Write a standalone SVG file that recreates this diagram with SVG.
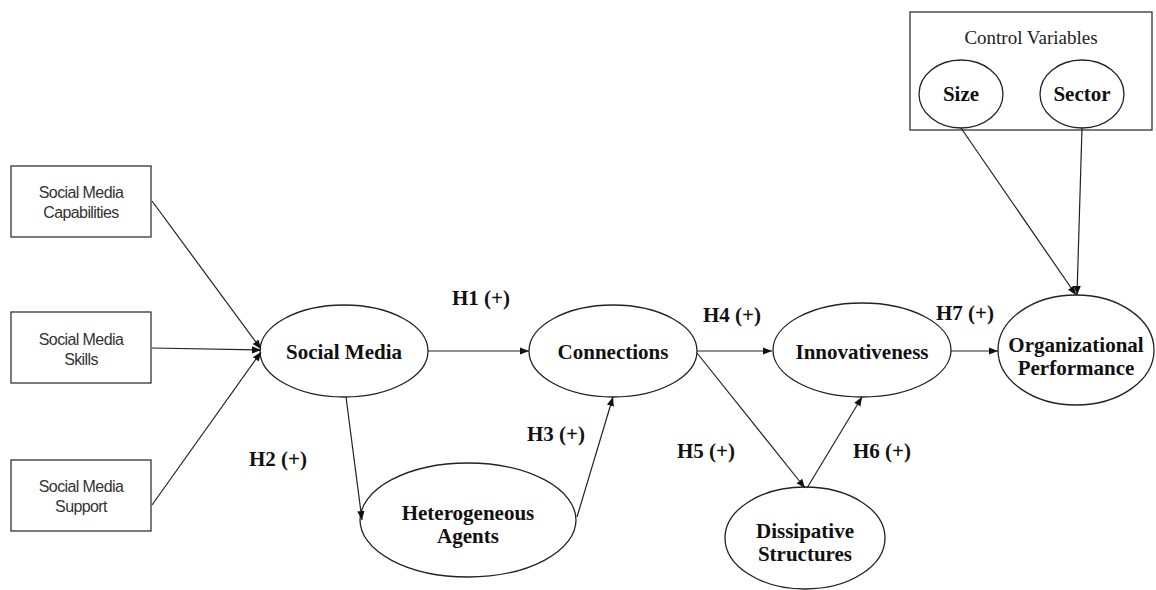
<svg xmlns="http://www.w3.org/2000/svg" width="1156" height="590" viewBox="0 0 1156 590">
<defs>
<marker id="arr" viewBox="0 0 10 10" refX="10" refY="5" markerWidth="9" markerHeight="9" markerUnits="userSpaceOnUse" orient="auto">
<path d="M0,1 L10,5 L0,9 z" fill="#111"/>
</marker>
</defs>
<style>
.box{fill:#fff;stroke:#333;stroke-width:1.3}
.ell{fill:#fff;stroke:#222;stroke-width:1.3}
.bt{font-family:"Liberation Sans",Arial,sans-serif;font-size:16px;fill:#333;text-anchor:middle;letter-spacing:-0.6px}
.et{font-family:"Liberation Serif","Times New Roman",serif;font-size:21px;font-weight:bold;fill:#111;text-anchor:middle}
.ht{font-family:"Liberation Serif","Times New Roman",serif;font-size:21px;font-weight:bold;fill:#111;text-anchor:middle}
.ct{font-family:"Liberation Serif","Times New Roman",serif;font-size:19px;fill:#222;text-anchor:middle}
.ln{stroke:#222;stroke-width:1.2;fill:none;marker-end:url(#arr)}
</style>
<rect width="1156" height="590" fill="#fff"/>
<g id="control-box">
<rect class="box" x="910" y="12" width="242" height="118"/>
<text class="ct" x="1031" y="44">Control Variables</text>
</g>
<g id="size">
<ellipse class="ell" cx="961" cy="94" rx="42" ry="34"/>
<text class="et" x="961" y="101">Size</text>
</g>
<g id="sector">
<ellipse class="ell" cx="1082" cy="94" rx="42" ry="34"/>
<text class="et" x="1082" y="101">Sector</text>
</g>
<g id="sm-capabilities">
<rect class="box" x="11" y="166" width="140" height="71"/>
<text class="bt" x="81" y="198">Social Media</text>
<text class="bt" x="81" y="218">Capabilities</text>
</g>
<g id="sm-skills">
<rect class="box" x="11" y="312" width="140" height="71"/>
<text class="bt" x="81" y="345">Social Media</text>
<text class="bt" x="81" y="365">Skills</text>
</g>
<g id="sm-support">
<rect class="box" x="11" y="460" width="140" height="71"/>
<text class="bt" x="81" y="492">Social Media</text>
<text class="bt" x="81" y="512">Support</text>
</g>
<g id="social-media">
<ellipse class="ell" cx="344" cy="351" rx="84" ry="46"/>
<text class="et" x="344" y="359">Social Media</text>
</g>
<g id="connections">
<ellipse class="ell" cx="613" cy="351" rx="84" ry="46"/>
<text class="et" x="613" y="359">Connections</text>
</g>
<g id="innovativeness">
<ellipse class="ell" cx="862" cy="350" rx="89" ry="47"/>
<text class="et" x="862" y="359">Innovativeness</text>
</g>
<g id="org-performance">
<ellipse class="ell" cx="1076" cy="350" rx="78" ry="55"/>
<text class="et" x="1076" y="352">Organizational</text>
<text class="et" x="1076" y="375">Performance</text>
</g>
<g id="heterogeneous-agents">
<ellipse class="ell" cx="468" cy="520" rx="108" ry="57"/>
<text class="et" x="468" y="520">Heterogeneous</text>
<text class="et" x="468" y="543">Agents</text>
</g>
<g id="dissipative-structures">
<ellipse class="ell" cx="805" cy="538" rx="80" ry="51"/>
<text class="et" x="805" y="538">Dissipative</text>
<text class="et" x="805" y="561">Structures</text>
</g>
<g id="connectors">
<line class="ln" x1="152" y1="201" x2="261" y2="349"/>
<line class="ln" x1="152" y1="348" x2="261" y2="350"/>
<line class="ln" x1="152" y1="505" x2="261" y2="352"/>
<line class="ln" x1="428" y1="351" x2="529" y2="351"/>
<line class="ln" x1="346" y1="397" x2="362" y2="520"/>
<line class="ln" x1="577" y1="517" x2="613" y2="397"/>
<line class="ln" x1="697" y1="351" x2="772" y2="351"/>
<line class="ln" x1="697" y1="353" x2="805" y2="488"/>
<line class="ln" x1="807" y1="488" x2="862" y2="397"/>
<line class="ln" x1="951" y1="351" x2="998" y2="351"/>
<line class="ln" x1="961" y1="128" x2="1076" y2="295"/>
<line class="ln" x1="1082" y1="128" x2="1077" y2="295"/>
</g>
<g id="labels">
<text class="ht" x="481" y="305">H1 (+)</text>
<text class="ht" x="278" y="466">H2 (+)</text>
<text class="ht" x="556" y="441">H3 (+)</text>
<text class="ht" x="732" y="322">H4 (+)</text>
<text class="ht" x="706" y="458">H5 (+)</text>
<text class="ht" x="882" y="458">H6 (+)</text>
<text class="ht" x="965" y="320">H7 (+)</text>
</g>
</svg>
